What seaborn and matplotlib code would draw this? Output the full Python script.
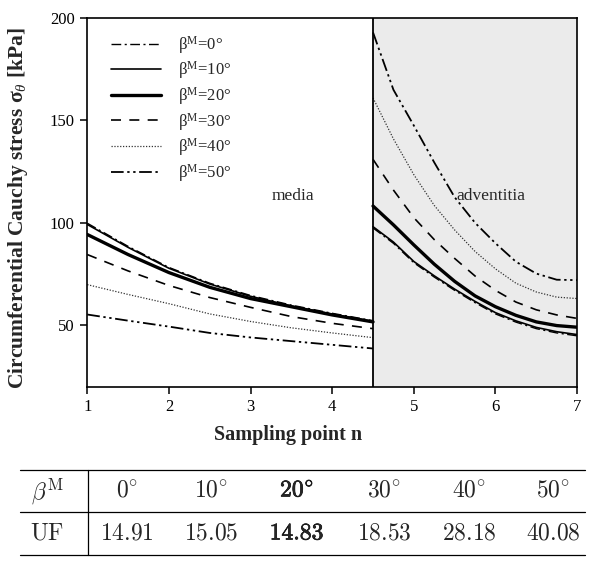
import seaborn as sns
import matplotlib.pyplot as plt
import matplotlib.patheffects as pe
import pandas as pd
import numpy as np

# ── data ─────────────────────────────────────────────────────
angles = [0, 10, 20, 30, 40, 50]

x_media = [1.0, 1.5, 2.0, 2.5, 3.0, 3.5, 4.0, 4.5]
media = {
    0:  [99.8, 88.5, 78.2, 70.5, 64.5, 59.8, 55.8, 52.2],
    10: [99.2, 88.0, 77.8, 70.1, 64.1, 59.4, 55.4, 51.8],
    20: [94.3, 84.5, 75.7, 68.5, 63.0, 59.0, 55.0, 51.6],
    30: [84.5, 76.5, 69.4, 63.5, 58.7, 54.2, 50.9, 48.3],
    40: [69.8, 65.0, 60.5, 55.5, 51.8, 48.7, 46.2, 43.9],
    50: [55.2, 52.2, 49.3, 46.2, 44.0, 42.2, 40.4, 38.6],
}

x_adv = [4.5, 4.75, 5.0, 5.25, 5.5, 5.75, 6.0, 6.25, 6.5, 6.75, 7.0]
adventitia = {
    0:  [97.5, 90.0, 80.5, 73.5, 67.0, 61.0, 55.5, 51.5, 48.3, 46.2, 44.8],
    10: [98.1, 90.6, 81.1, 74.1, 67.6, 61.6, 56.1, 52.1, 48.9, 46.8, 45.4],
    20: [108.2, 99.0, 89.2, 79.8, 71.4, 64.3, 59.0, 54.8, 51.6, 49.8, 49.0],
    30: [131.0, 116.0, 102.5, 91.8, 82.6, 74.0, 67.0, 61.3, 57.5, 55.0, 53.3],
    40: [161.0, 141.0, 123.5, 108.5, 96.5, 86.0, 77.5, 70.5, 66.2, 63.7, 63.0],
    50: [193.0, 165.0, 147.5, 129.5, 112.5, 100.0, 90.0, 81.0, 75.2, 72.2, 72.0],
}

table_head = ['0', '10', '20', '30', '40', '50']
uf_values = ['14.91', '15.05', '14.83', '18.53', '28.18', '40.08']
best_col = 2

# line styles per angle
styles = {
    0:  dict(ls=(0, (7, 2.5, 1.5, 2.5)), lw=1.0, color='black'),
    10: dict(ls='-', lw=1.2, color='black'),
    20: dict(ls='-', lw=2.4, color='black'),
    30: dict(ls=(0, (6, 5)), lw=1.2, color='black'),
    40: dict(ls=(0, (1, 1.3)), lw=0.9, color='#333333'),
    50: dict(ls=(0, (7, 2, 1.3, 2, 1.3, 2)), lw=1.3, color='black'),
}

sns.set_theme(style='ticks')
plt.rcParams['font.family'] = ['Liberation Serif', 'DejaVu Serif']
plt.rcParams['mathtext.fontset'] = 'custom'
plt.rcParams['mathtext.rm'] = 'Liberation Serif'
plt.rcParams['mathtext.it'] = 'Liberation Serif:italic'
plt.rcParams['mathtext.bf'] = 'Liberation Serif:bold'

fig = plt.figure(figsize=(6.04, 5.66), dpi=100)
ax = fig.add_axes([0.1445, 0.317, 0.811, 0.651])

ax.axvspan(4.5, 7, color='#ebebeb', zorder=0, lw=0)
ax.axvline(4.5, color='black', lw=1.3, zorder=3)

for a in angles:
    st = styles[a]
    df_m = pd.DataFrame({'n': x_media, 'stress': media[a]})
    df_a = pd.DataFrame({'n': x_adv, 'stress': adventitia[a]})
    sns.lineplot(df_m, x='n', y='stress', ax=ax, color=st['color'],
                 linestyle=st['ls'], lw=st['lw'],
                 label='β$^{\\mathrm{M}}$=%d°' % a)
    sns.lineplot(df_a, x='n', y='stress', ax=ax, color=st['color'],
                 linestyle=st['ls'], lw=st['lw'])

ax.set_xlim(1, 7)
ax.set_ylim(20, 200)
ax.set_xticks(range(1, 8))
ax.set_yticks([50, 100, 150, 200])
ax.tick_params(direction='out', length=5, width=1.1, labelsize=12,
               colors='black', pad=4)
for s in ax.spines.values():
    s.set_visible(True)
    s.set_color('black')
    s.set_linewidth(1.2)

ax.set_xlabel('Sampling point n', fontsize=14.5, fontweight='bold')
ax.xaxis.set_label_coords(0.41, -0.105)
ax.set_ylabel('Circumferential Cauchy stress σ$_{θ}$ [kPa]', fontsize=15.5,
              fontweight='bold')
ax.yaxis.set_label_coords(-0.116, 0.485)

ax.text(3.52, 113, 'media', fontsize=12.5, ha='center', va='center')
ax.text(5.94, 113, 'adventitia', fontsize=12.5, ha='center', va='center')

leg = ax.legend(loc='upper left', bbox_to_anchor=(0.035, 0.975), frameon=False,
                fontsize=12, handlelength=3.0, handletextpad=1.0,
                labelspacing=0.22, borderaxespad=0)

# ── table under the chart (pixel coordinates) ───────────────
tab = fig.add_axes([0, 0, 1, 1], zorder=-1)
tab.set_xlim(0, 604)
tab.set_ylim(566, 0)
tab.axis('off')

for yy in [470, 512, 555]:
    tab.plot([20, 585], [yy, yy], color='black', lw=0.9)
tab.plot([88, 88], [470, 555], color='black', lw=0.9)

col_x = [127, 211, 297, 384, 469, 553]
tab.text(47, 491, r'$\beta^{\mathrm{M}}$', fontsize=17, ha='center',
         va='center', math_fontfamily='cm')
tab.text(47, 534, r'$\mathrm{UF}$', fontsize=17, ha='center', va='center',
         math_fontfamily='cm')
bold = [pe.withStroke(linewidth=0.5, foreground='black')]
for i, (h, v) in enumerate(zip(table_head, uf_values)):
    fx = bold if i == best_col else None
    tab.text(col_x[i], 491, r'$%s^{\circ}$' % h, fontsize=17, ha='center',
             va='center', math_fontfamily='cm', path_effects=fx)
    tab.text(col_x[i], 534, r'$%s$' % v, fontsize=17, ha='center',
             va='center', math_fontfamily='cm', path_effects=fx)

plt.savefig('out.png', dpi=100)
plt.close()
